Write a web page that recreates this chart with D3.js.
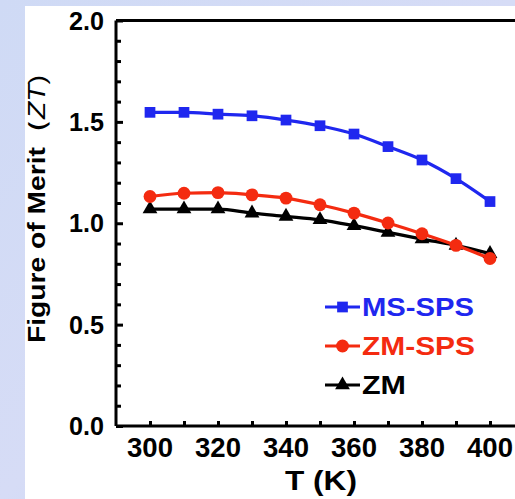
<!DOCTYPE html>
<html>
<head>
<meta charset="utf-8">
<script src="https://cdn.jsdelivr.net/npm/d3@7"></script>
<style>
  body { margin: 0; background: #fff; }
  svg { display: block; }
</style>
</head>
<body>
<svg id="chart" width="515" height="499"></svg>
<script>
// data
var temps = [300, 310, 320, 330, 340, 350, 360, 370, 380, 390, 400];
var msSps = [1.547, 1.547, 1.538, 1.530, 1.509, 1.481, 1.440, 1.378, 1.312, 1.220, 1.107];
var zmSps = [1.132, 1.148, 1.151, 1.140, 1.124, 1.091, 1.050, 1.001, 0.948, 0.891, 0.826];
var zm    = [1.070, 1.070, 1.070, 1.050, 1.034, 1.017, 0.988, 0.955, 0.922, 0.891, 0.850];
var seriesNames = ["MS-SPS", "ZM-SPS", "ZM"];
var xTicks = [300, 320, 340, 360, 380, 400];
var yTicks = [0.0, 0.5, 1.0, 1.5, 2.0];

var svg = d3.select("#chart");
var font = "'Liberation Sans', Arial, sans-serif";

// slide background
var defs = svg.append("defs");
var grad = defs.append("linearGradient").attr("id", "bg")
    .attr("x1", 0).attr("y1", 0).attr("x2", 1).attr("y2", 1);
grad.append("stop").attr("offset", "0%").attr("stop-color", "#cfdaf5");
grad.append("stop").attr("offset", "50%").attr("stop-color", "#d6dcf6");
grad.append("stop").attr("offset", "100%").attr("stop-color", "#bcd2f3");
svg.append("rect").attr("width", 515).attr("height", 499).attr("fill", "url(#bg)");
svg.append("rect").attr("x", 25).attr("y", 6).attr("width", 490).attr("height", 493).attr("fill", "#fff");

var x = d3.scaleLinear().domain([290, 410]).range([116, 524]);
var y = d3.scaleLinear().domain([0, 2]).range([426, 20.5]);

// frame
svg.append("line").attr("x1", x(290)).attr("x2", 515).attr("y1", y(2)).attr("y2", y(2))
  .attr("stroke", "#000").attr("stroke-width", 3);

// x axis, ticks inward
var xAxis = svg.append("g").attr("transform", "translate(0," + y(0) + ")")
  .call(d3.axisBottom(x).tickValues(d3.range(300, 401, 10)).tickSize(-5).tickFormat(""));
xAxis.select(".domain").attr("stroke-width", 3).attr("d", "M" + x(290) + ",0H515");
xAxis.selectAll(".tick line").attr("stroke-width", 3);
svg.append("g").selectAll("text").data(xTicks).enter().append("text")
  .attr("x", d => x(d)).attr("y", 457)
  .attr("text-anchor", "middle")
  .attr("textLength", 46).attr("lengthAdjust", "spacingAndGlyphs")
  .style("font", "bold 27px " + font)
  .text(d => d);

// y axis, ticks inward
var yAxis = svg.append("g").attr("transform", "translate(" + x(290) + ",0)")
  .call(d3.axisLeft(y).tickValues(d3.range(0, 2.01, 0.1)).tickSize(-5).tickFormat(""));
yAxis.select(".domain").attr("stroke-width", 3).attr("d", "M0," + y(2) + "V" + y(0));
yAxis.selectAll(".tick line").attr("stroke-width", 3)
  .attr("x2", (d, i) => i % 5 === 0 ? 7 : 5);
svg.append("g").selectAll("text").data(yTicks).enter().append("text")
  .attr("x", 104).attr("y", d => y(d) + 9)
  .attr("text-anchor", "end")
  .attr("textLength", 35).attr("lengthAdjust", "spacingAndGlyphs")
  .style("font", "bold 25px " + font)
  .text(d => d.toFixed(1));

// axis titles
svg.append("text")
  .attr("x", 321).attr("y", 490)
  .attr("text-anchor", "middle")
  .attr("textLength", 72).attr("lengthAdjust", "spacingAndGlyphs")
  .style("font", "bold 28px " + font)
  .text("T (K)");

var yt = svg.append("text")
  .attr("transform", "translate(45,209) rotate(-90)")
  .attr("text-anchor", "middle")
  .attr("textLength", 268).attr("lengthAdjust", "spacingAndGlyphs")
  .style("font", "bold 24px " + font);
yt.append("tspan").text("Figure of Merit\uff08");
yt.append("tspan").style("font-style", "italic").style("font-weight", "normal").text("ZT");
yt.append("tspan").style("font-weight", "normal").text(")");

// series
var series = [
  {name: seriesNames[0], values: msSps, color: "#1f27ef", shape: d3.symbolSquare, size: 115, w: 112},
  {name: seriesNames[1], values: zmSps, color: "#f42b10", shape: d3.symbolCircle, size: 130, w: 113},
  {name: seriesNames[2], values: zm,    color: "#000000", shape: d3.symbolTriangle, size: 95, w: 44}
];

var line = d3.line().x((d, i) => x(temps[i])).y(d => y(d)).curve(d3.curveMonotoneX);

series.slice().reverse().forEach(function(s) {
  var g = svg.append("g");
  g.append("path").datum(s.values)
    .attr("d", line).attr("fill", "none")
    .attr("stroke", s.color).attr("stroke-width", 3.2);
  g.selectAll("path.pt").data(s.values).enter().append("path")
    .attr("class", "pt")
    .attr("transform", (d, i) => "translate(" + x(temps[i]) + "," + y(d) + ")")
    .attr("d", d3.symbol().type(s.shape).size(s.size))
    .attr("fill", s.color);
});

// legend
var leg = svg.append("g").selectAll("g").data(series).enter().append("g")
  .attr("transform", (d, i) => "translate(325," + (307 + i * 39) + ")");
leg.append("line").attr("x1", 0).attr("x2", 35)
  .attr("stroke", d => d.color).attr("stroke-width", 3.2);
leg.append("path").attr("transform", "translate(17.5,0)")
  .attr("d", d => d3.symbol().type(d.shape).size(d.size)())
  .attr("fill", d => d.color);
leg.append("text").attr("x", 37).attr("y", 9)
  .attr("textLength", d => d.w).attr("lengthAdjust", "spacingAndGlyphs")
  .style("font", "bold 25px " + font)
  .attr("fill", d => d.color)
  .text(d => d.name);
</script>
</body>
</html>
